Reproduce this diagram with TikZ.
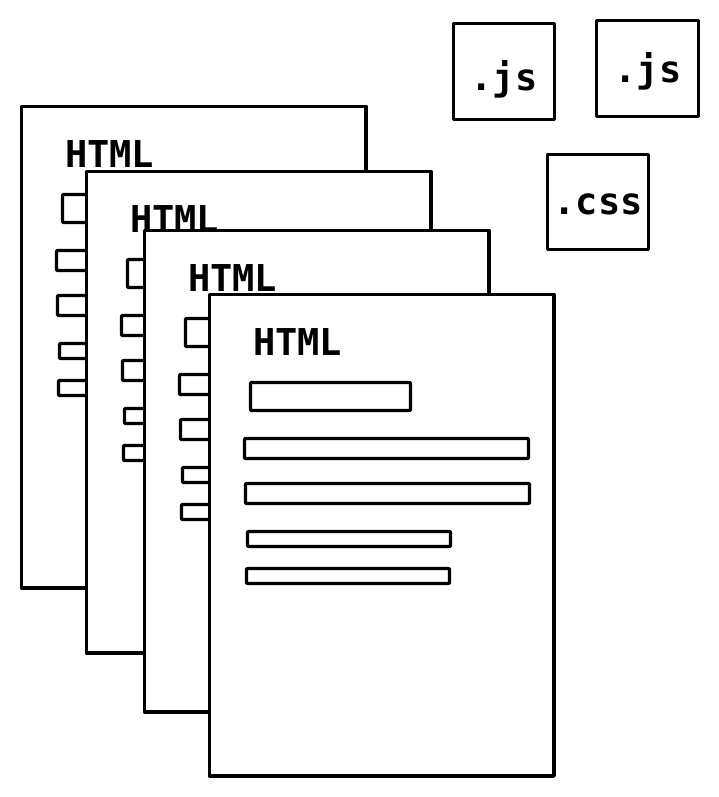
\documentclass[tikz,border=0pt]{standalone}
\usepackage{fontspec}
\setmonofont{DejaVu Sans Mono}
\tikzset{
  ln/.style={line width=3.4pt, line join=round, line cap=round},
  pagebox/.style={ln, draw, fill=white, inner sep=0pt, outer sep=0pt, anchor=north west},
  bar/.style={ln, draw, rounded corners=1pt, inner sep=0pt, outer sep=0pt, anchor=north west},
  filebox/.style={ln, draw, inner sep=0pt, outer sep=0pt, anchor=north west},
  lbl/.style={font=\ttfamily\bfseries\fontsize{37}{37}\selectfont, inner sep=0pt, outer sep=0pt},
}
\newcommand\htmlpage[3]{%
  \begin{scope}[shift={(#2,#3)}]
    \node[pagebox, minimum width=344.5pt, minimum height=481.5pt] (#1) at (209.5,294.5) {};
    \node[lbl, anchor=base west] (#1-title) at (253,355) {HTML};
    \node[bar, minimum width=160pt, minimum height=28pt] (#1-b1) at (250.5,382.5) {};
    \node[bar, minimum width=284pt, minimum height=20pt] (#1-b2) at (244.5,438.5) {};
    \node[bar, minimum width=284pt, minimum height=20pt] (#1-b3) at (245.5,483.5) {};
    \node[bar, minimum width=203pt, minimum height=15pt] (#1-b4) at (247.5,531.5) {};
    \node[bar, minimum width=203pt, minimum height=15pt] (#1-b5) at (246.5,568.5) {};
  \end{scope}}
\begin{document}
\begin{tikzpicture}[x=1pt,y=-1pt]
  \useasboundingbox[fill=white] (0,0) rectangle (719,797);
  \htmlpage{pA}{-188}{-188}
  \htmlpage{pB}{-123}{-123}
  \htmlpage{pC}{-65}{-64}
  \htmlpage{pD}{0}{0}
  % asset files
  \node[filebox, minimum width=101pt, minimum height=96pt] (jsA) at (453.5,23.5) {};
  \node[lbl, anchor=base] (jsA-t) at (504,91) {.js};
  \node[filebox, minimum width=102pt, minimum height=96pt] (jsB) at (596.5,20.5) {};
  \node[lbl, anchor=base] (jsB-t) at (648,83) {.js};
  \node[filebox, minimum width=101pt, minimum height=95pt] (css) at (547.5,154.5) {};
  \node[lbl, anchor=base] (css-t) at (598,214) {.css};
\end{tikzpicture}
\end{document}
